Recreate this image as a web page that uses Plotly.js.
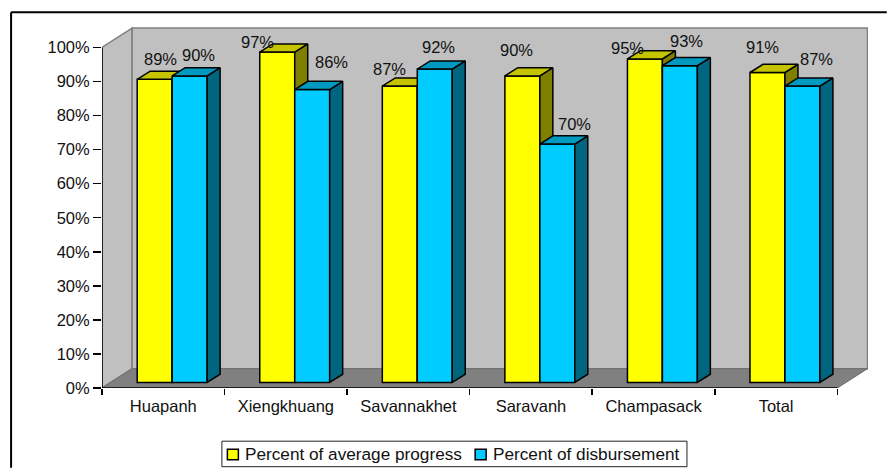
<!DOCTYPE html>
<html>
<head>
<meta charset="utf-8">
<script src="https://cdn.plot.ly/plotly-3.0.1.min.js"></script>
<style>html,body{margin:0;padding:0;background:#fff;overflow:hidden}#chart{width:887px;height:468px}</style>
</head>
<body>
<div id="chart"></div>
<script>
// Programme progress and disbursement by province, in a 3-D column style.
const categories = ['Huapanh', 'Xiengkhuang', 'Savannakhet', 'Saravanh', 'Champasack', 'Total'];
const progress = [89, 97, 87, 90, 95, 91];
const disbursement = [90, 86, 92, 70, 93, 87];
const yTicks = [0, 10, 20, 30, 40, 50, 60, 70, 80, 90, 100];
const seriesNames = ['Percent of average progress', 'Percent of disbursement'];

// Pixel nudges for the value labels [right, up].
const progressLabelShift = [[6, 20], [-20, 10], [-10, 17], [-6, 26], [-17, 11], [-5, 26]];
const disbursementLabelShift = [[9, 21], [19, 28], [4, 22], [17, 20], [7, 25], [14, 27]];

const W = 887, H = 468;
const margin = {l: 101.5, r: 18.8, t: 27.3, b: 79.7, pad: 0, autoexpand: false};
const xMax = 6.25, yMax = 106;
const plotW = W - margin.l - margin.r, plotH = H - margin.t - margin.b;
const paperX = px => (px - margin.l) / plotW;
const paperY = py => (H - margin.b - py) / plotH;

// Depth of the box and of the columns, in axis units.
const wallDx = 0.246, wallDy = 5.67;
const barDx = 0.106, barDy = 2.4;
const barShiftX = 0.0725, barBase = 1.64, barW = 0.2853;

const lineBlack = {color: '#000', width: 1.5};
const centers = categories.map((_, i) => i + 0.5 + barShiftX);
const yellowX = centers.map(c => c - barW / 2);
const blueX = centers.map(c => c + barW / 2);

function faces(xs, vals, kind) {
  const px = [], py = [];
  xs.forEach((c, i) => {
    const l = c - barW / 2, r = c + barW / 2, top = vals[i] + barBase;
    const pts = kind === 'top'
      ? [[l, top], [r, top], [r + barDx, top + barDy], [l + barDx, top + barDy], [l, top]]
      : [[r, barBase], [r + barDx, barBase + barDy], [r + barDx, top + barDy], [r, top], [r, barBase]];
    pts.forEach(p => { px.push(p[0]); py.push(p[1]); });
    px.push(null); py.push(null);
  });
  return {x: px, y: py};
}

function faceTrace(xs, vals, kind, color, xa, ya) {
  const f = faces(xs, vals, kind);
  return {type: 'scatter', mode: 'lines', x: f.x, y: f.y, fill: 'toself', fillcolor: color,
    line: lineBlack, hoverinfo: 'skip', showlegend: false, xaxis: xa, yaxis: ya};
}

function barTrace(name, xs, vals, color, xa, ya) {
  return {type: 'bar', name: name, x: xs, y: vals, base: barBase, width: barW, showlegend: false,
    marker: {color: color, line: lineBlack}, xaxis: xa, yaxis: ya};
}

const colorYellow = '#FFFF00', colorBlue = '#00CCFF';

const traces = [
  barTrace(seriesNames[0], yellowX, progress, colorYellow, 'x', 'y'),
  faceTrace(yellowX, progress, 'side', '#808000', 'x', 'y'),
  faceTrace(yellowX, progress, 'top', '#C4C400', 'x', 'y'),
  barTrace(seriesNames[1], blueX, disbursement, colorBlue, 'x2', 'y2'),
  faceTrace(blueX, disbursement, 'side', '#006680', 'x2', 'y2'),
  faceTrace(blueX, disbursement, 'top', '#0099C0', 'x2', 'y2')
];

const poly = (pts) => 'M' + pts.map(p => p.join(',')).join('L') + 'Z';
const wallLine = {color: '#808080', width: 1.5};
const paperRect = (x0, y0, x1, y1, fill, line) => ({type: 'rect', xref: 'paper', yref: 'paper',
  x0: paperX(x0), x1: paperX(x1), y0: paperY(y0), y1: paperY(y1), fillcolor: fill, line: line});

const shapes = [
  {type: 'path', layer: 'below', xref: 'x', yref: 'y', fillcolor: '#C0C0C0', line: wallLine,
   path: poly([[0, 0], [0, 100], [wallDx, 100 + wallDy], [wallDx, wallDy]])},
  {type: 'path', layer: 'below', xref: 'x', yref: 'y', fillcolor: '#C0C0C0', line: wallLine,
   path: poly([[wallDx, wallDy], [wallDx, 100 + wallDy], [6 + wallDx, 100 + wallDy], [6 + wallDx, wallDy]])},
  {type: 'path', layer: 'below', xref: 'x', yref: 'y', fillcolor: '#808080', line: {color: '#6e6e6e', width: 1},
   path: poly([[0, 0], [6, 0], [6 + wallDx, wallDy], [wallDx, wallDy]])},
  // axis lines stop at the front corners of the box
  {type: 'line', layer: 'below', xref: 'x', yref: 'y', x0: 0, x1: 6, y0: 0, y1: 0, line: lineBlack},
  {type: 'line', layer: 'below', xref: 'x', yref: 'y', x0: 0, x1: 0, y0: 0, y1: 100, line: lineBlack},
  // outer frame: top and left edges
  {type: 'line', xref: 'paper', yref: 'paper', x0: paperX(10.5), x1: paperX(W),
   y0: paperY(12.5), y1: paperY(12.5), line: {color: '#000', width: 2}},
  {type: 'line', xref: 'paper', yref: 'paper', x0: paperX(10.5), x1: paperX(10.5),
   y0: paperY(12.5), y1: paperY(H), line: {color: '#000', width: 2}},
  // legend box and swatches
  paperRect(221.5, 441.5, 687, 467, '#fff', {color: '#222', width: 1}),
  paperRect(227, 449.5, 238, 460, colorYellow, {color: '#000', width: 1.5}),
  paperRect(475, 449.5, 486, 460, colorBlue, {color: '#000', width: 1.5})
];

const labelFont = {family: 'Liberation Sans, Arial, sans-serif', size: 16.5, color: '#111'};
const legendFont = {family: labelFont.family, size: 17.2, color: '#111'};

function labels(xs, vals, shift, xa, ya) {
  return vals.map((v, i) => ({
    x: xs[i], y: v + barBase, xref: xa, yref: ya, text: v + '%', showarrow: false,
    xanchor: 'center', yanchor: 'middle', xshift: shift[i][0], yshift: shift[i][1], font: labelFont
  }));
}

const legendLabel = (text, px) => ({xref: 'paper', yref: 'paper', x: paperX(px), y: paperY(454), text: text,
  showarrow: false, xanchor: 'left', yanchor: 'middle', font: legendFont, borderpad: 0});

const layout = {
  width: W, height: H, margin: margin, showlegend: false,
  paper_bgcolor: '#fff', plot_bgcolor: 'rgba(0,0,0,0)',
  barmode: 'overlay', hovermode: false,
  font: labelFont,
  xaxis: {range: [0, xMax], tickmode: 'array', tickvals: categories.map((_, i) => i + 0.5), ticktext: categories,
    ticks: 'outside', ticklen: 3.5, tickcolor: 'rgba(0,0,0,0)', showgrid: false, zeroline: false, showline: false,
    fixedrange: true, tickfont: labelFont},
  xaxis2: {range: [0, xMax], overlaying: 'x', anchor: 'y2', side: 'bottom', tickmode: 'array', tickvals: [0, 1, 2, 3, 4, 5, 6],
    showticklabels: false, ticks: 'outside', ticklen: 6, tickwidth: 1.5, tickcolor: '#000',
    showgrid: false, zeroline: false, showline: false, fixedrange: true},
  yaxis: {range: [0, yMax], tickmode: 'array', tickvals: yTicks, ticktext: yTicks.map(v => v + '%'),
    ticks: 'outside', ticklen: 8, tickwidth: 1.5, tickcolor: '#000',
    showgrid: false, zeroline: false, showline: false, fixedrange: true, tickfont: labelFont},
  yaxis2: {range: [0, yMax], overlaying: 'y', anchor: 'x2', visible: false, fixedrange: true},
  shapes: shapes,
  annotations: labels(yellowX, progress, progressLabelShift, 'x', 'y')
    .concat(labels(blueX, disbursement, disbursementLabelShift, 'x2', 'y2'))
    .concat([legendLabel(seriesNames[0], 244), legendLabel(seriesNames[1], 491.5)])
};

Plotly.newPlot('chart', traces, layout, {displayModeBar: false, staticPlot: true});
</script>
</body>
</html>
